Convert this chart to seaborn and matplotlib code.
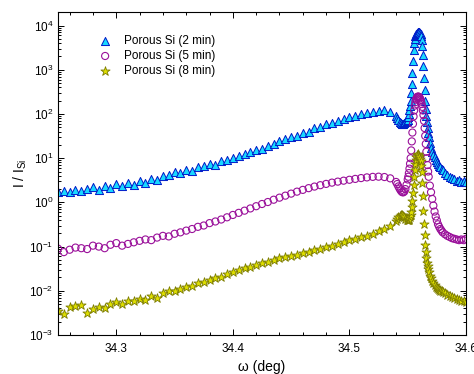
import numpy as np
import pandas as pd
import matplotlib
matplotlib.use('Agg')
import matplotlib.pyplot as plt
import seaborn as sns
from matplotlib.ticker import LogLocator, MultipleLocator, NullFormatter, FormatStrFormatter


# omega scan grid (deg): coarse on the tails, fine across the Si peak
omega = [
    34.250, 34.255, 34.260, 34.265, 34.270, 34.275, 34.280, 34.285, 34.290, 34.295,
    34.300, 34.305, 34.310, 34.315, 34.320, 34.325, 34.330, 34.335, 34.340, 34.345,
    34.350, 34.355, 34.360, 34.365, 34.370, 34.375, 34.380, 34.385, 34.390, 34.395,
    34.400, 34.405, 34.410, 34.415, 34.420, 34.425, 34.430, 34.435, 34.440, 34.445,
    34.450, 34.455, 34.460, 34.465, 34.470, 34.475, 34.480, 34.485, 34.490, 34.495,
    34.500, 34.505, 34.510, 34.515, 34.520, 34.525, 34.530, 34.535,
    34.540, 34.541, 34.542, 34.543, 34.544, 34.545, 34.546, 34.547, 34.548, 34.549,
    34.5500, 34.5505, 34.5510, 34.5515, 34.5520, 34.5525, 34.5530, 34.5535, 34.5540, 34.5545,
    34.5550, 34.5555, 34.5560, 34.5565, 34.5570, 34.5575, 34.5580, 34.5585, 34.5590, 34.5595,
    34.5600, 34.5605, 34.5610, 34.5615, 34.5620, 34.5625, 34.5630, 34.5635, 34.5640, 34.5645,
    34.5650, 34.5655, 34.5660, 34.5665, 34.5670, 34.5675, 34.5680,
    34.569, 34.570, 34.571, 34.572, 34.573, 34.574, 34.575, 34.576, 34.577, 34.578, 34.579, 34.580,
    34.582, 34.584, 34.586, 34.588, 34.590, 34.592, 34.594, 34.596, 34.598, 34.600,
]

i_2min = [
    1.7, 1.8, 1.7, 1.9, 1.8, 2.0, 2.2, 1.9, 2.3, 2.1,
    2.6, 2.4, 2.8, 2.5, 3.0, 2.8, 3.4, 3.2, 3.9, 4.2,
    4.8, 4.6, 5.4, 5.2, 6.2, 6.5, 7.4, 7.0, 8.5, 9.0,
    10.2, 11.0, 12.5, 13.5, 15.5, 16.5, 19.0, 21.0, 24.0, 27.0,
    30.0, 32.0, 38.0, 40.0, 47.0, 50.0, 58.0, 62.0, 71.0, 76.0,
    85.0, 91.0, 101.0, 105.0, 113.0, 117.0, 123.0, 110.0,
    92, 80, 72, 66, 62, 60, 60, 62, 66, 70,
    75, 85, 100, 120, 150, 200, 300, 480, 850, 1600,
    2800, 4000, 5000, 5700, 6200, 6600, 6900, 7100, 7200, 7200,
    7000, 6700, 6300, 5700, 4800, 3500, 2200, 1200, 650, 350,
    200, 130, 90, 65, 48, 37, 30,
    22, 17, 14, 12, 10.5, 9.3, 8.3, 7.5, 6.8, 6.2, 5.7, 5.3,
    4.7, 4.2, 3.8, 3.5, 3.3, 3.1, 3.2, 2.9, 3.0, 2.9,
]

i_5min = [
    0.090, 0.075, 0.085, 0.095, 0.092, 0.088, 0.105, 0.100, 0.092, 0.110,
    0.120, 0.105, 0.115, 0.125, 0.135, 0.145, 0.140, 0.160, 0.175, 0.170,
    0.195, 0.210, 0.230, 0.250, 0.280, 0.300, 0.340, 0.370, 0.410, 0.460,
    0.520, 0.580, 0.650, 0.730, 0.820, 0.920, 1.02, 1.15, 1.28, 1.42,
    1.58, 1.75, 1.92, 2.10, 2.28, 2.45, 2.62, 2.80, 2.95, 3.10,
    3.25, 3.40, 3.55, 3.68, 3.78, 3.82, 3.75, 3.50,
    2.9, 2.6, 2.3, 2.05, 1.85, 1.72, 1.68, 1.75, 2.0, 2.5,
    3.3, 3.8, 4.6, 5.8, 7.5, 10, 15, 24, 38, 60,
    88, 120, 155, 185, 210, 228, 240, 246, 248, 245,
    238, 225, 210, 190, 168, 145, 120, 95, 70, 48,
    32, 21, 14, 10, 7.0, 5.0, 3.8,
    2.4, 1.7, 1.2, 0.85, 0.62, 0.48, 0.39, 0.32, 0.28, 0.25, 0.23, 0.21,
    0.19, 0.175, 0.165, 0.155, 0.15, 0.145, 0.14, 0.145, 0.14, 0.15,
]

i_8min = [
    0.0035, 0.0030, 0.0042, 0.0045, 0.0048, 0.0032, 0.0038, 0.0043, 0.0040, 0.0050,
    0.0055, 0.0050, 0.0058, 0.0060, 0.0065, 0.0062, 0.0075, 0.0070, 0.0090, 0.0100,
    0.0098, 0.0110, 0.0120, 0.0130, 0.0150, 0.0160, 0.0175, 0.0190, 0.0210, 0.0240,
    0.0270, 0.0290, 0.0320, 0.0350, 0.0380, 0.0420, 0.0460, 0.0500, 0.0540, 0.0580,
    0.0620, 0.0660, 0.0710, 0.0760, 0.0820, 0.0890, 0.0960, 0.1050, 0.1150, 0.1260,
    0.1380, 0.1500, 0.1630, 0.1780, 0.1950, 0.2200, 0.2500, 0.3000,
    0.38, 0.42, 0.46, 0.50, 0.52, 0.52, 0.50, 0.46, 0.42, 0.40,
    0.40, 0.40, 0.41, 0.43, 0.46, 0.52, 0.62, 0.80, 1.1, 1.6,
    2.5, 3.8, 5.5, 7.5, 9.3, 10.8, 11.8, 12.2, 12.0, 11.5,
    10.8, 9.8, 8.5, 6.8, 4.8, 2.8, 1.4, 0.65, 0.32, 0.18,
    0.11, 0.075, 0.055, 0.043, 0.036, 0.031, 0.027,
    0.022, 0.019, 0.017, 0.015, 0.0135, 0.0125, 0.0118, 0.0112, 0.0106, 0.0101, 0.0097, 0.0093,
    0.0088, 0.0082, 0.0076, 0.0071, 0.0067, 0.0064, 0.0061, 0.0059, 0.0058, 0.0057,
]

labels = ['Porous Si (2 min)', 'Porous Si (5 min)', 'Porous Si (8 min)']


sns.set_style('ticks')
plt.rcParams['font.family'] = ['Liberation Sans', 'DejaVu Sans']
plt.rcParams['mathtext.fontset'] = 'custom'
plt.rcParams['mathtext.rm'] = 'Liberation Sans'
plt.rcParams['text.color'] = 'black'
plt.rcParams['axes.labelcolor'] = 'black'
plt.rcParams['xtick.color'] = 'black'
plt.rcParams['ytick.color'] = 'black'

df = pd.DataFrame({'omega': omega, 't2': i_2min, 't5': i_5min, 't8': i_8min})

fig = plt.figure(figsize=(4.74, 3.74), dpi=100)
ax = fig.add_axes([58 / 474, 39 / 374, 408 / 474, 323 / 374])

sns.scatterplot(data=df, x='omega', y='t2', ax=ax, marker='^', s=34,
                color='#18d8ff', edgecolor='#0018c8', linewidth=0.7, label=labels[0])
sns.scatterplot(data=df, x='omega', y='t5', ax=ax, marker='o', s=26,
                facecolor='none', edgecolor='#9a109a', linewidth=0.8, label=labels[1])
sns.scatterplot(data=df, x='omega', y='t8', ax=ax, marker='*', s=48,
                color='#dede00', edgecolor='#7c7c00', linewidth=0.6, label=labels[2])

ax.set_yscale('log')
ax.set_xlim(34.25, 34.6)
ax.set_ylim(1e-3, 2.03e4)

ax.xaxis.set_major_locator(MultipleLocator(0.1))
ax.xaxis.set_minor_locator(MultipleLocator(0.02))
ax.xaxis.set_major_formatter(FormatStrFormatter('%.1f'))
ax.yaxis.set_major_locator(LogLocator(base=10, numticks=20))
ax.yaxis.set_minor_locator(LogLocator(base=10, subs=np.arange(2, 10), numticks=20))
ax.yaxis.set_minor_formatter(NullFormatter())

ax.tick_params(which='both', direction='in', top=True, right=True, width=0.7, labelsize=8.5)
ax.tick_params(which='major', length=4)
ax.tick_params(which='minor', length=2)
ax.tick_params(axis='x', which='major', pad=6)
ax.tick_params(axis='y', which='major', pad=3.5)
for sp in ax.spines.values():
    sp.set_visible(True)
    sp.set_linewidth(0.8)
    sp.set_color('black')

ax.set_xlabel('ω (deg)', fontsize=10, labelpad=3)
ax.set_ylabel('I / I$_\\mathregular{Si}$', fontsize=10, labelpad=0)

ax.legend(loc='upper left', bbox_to_anchor=(0.075, 0.943), frameon=False, fontsize=8.5,
          handletextpad=0.6, labelspacing=0.25, borderaxespad=0, handlelength=2.0)

fig.savefig('out.png', dpi=100)
